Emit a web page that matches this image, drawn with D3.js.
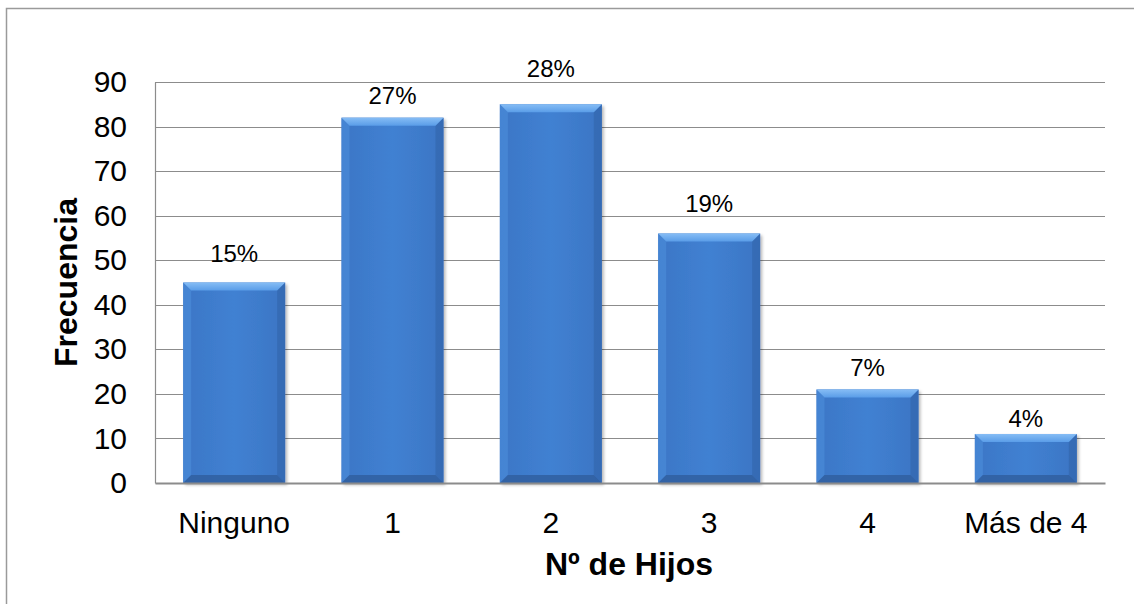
<!DOCTYPE html>
<html>
<head>
<meta charset="utf-8">
<script src="https://cdn.jsdelivr.net/npm/d3@7"></script>
<style>
  html, body { margin: 0; padding: 0; background: #fff; }
  svg { display: block; font-family: "Liberation Sans", Arial, sans-serif; }
</style>
</head>
<body>
<svg id="chart" width="1134" height="604"></svg>
<script>
// Number of children per respondent: frequency and share of total
const categories = ["Ninguno", "1", "2", "3", "4", "Más de 4"];
const frequencies = [45, 82, 85, 56, 21, 11];
const percentLabels = ["15%", "27%", "28%", "19%", "7%", "4%"];
const yTicks = [0, 10, 20, 30, 40, 50, 60, 70, 80, 90];

// Hand-placed gap (px) between each bar top and its label baseline
const labelLift = [21, 14, 27, 21, 13, 7];

const svg = d3.select("#chart");
const W = 1134, H = 604;
const plot = { left: 155, right: 1105, top: 82, bottom: 483 };

// Outer chart frame (runs off the right and bottom edges)
svg.append("rect")
  .attr("x", 6.5).attr("y", 8.5)
  .attr("width", W + 20).attr("height", H + 20)
  .attr("fill", "#fff").attr("stroke", "#9a9a9a").attr("stroke-width", 1.5);

const x = d3.scaleBand()
  .domain(categories)
  .range([plot.left, plot.right])
  .paddingInner(0.356)
  .paddingOuter(0.178);

const y = d3.scaleLinear()
  .domain([0, 90])
  .range([plot.bottom, plot.top]);

const defs = svg.append("defs");

// Body shading across the bar width
const body = defs.append("linearGradient").attr("id", "barBody")
  .attr("x1", "0").attr("x2", "1").attr("y1", "0").attr("y2", "0");
body.append("stop").attr("offset", "0").attr("stop-color", "#3b76c6");
body.append("stop").attr("offset", "0.5").attr("stop-color", "#4181d2");
body.append("stop").attr("offset", "1").attr("stop-color", "#3b75c4");

const topBevel = defs.append("linearGradient").attr("id", "barTop")
  .attr("x1", "0").attr("x2", "0").attr("y1", "0").attr("y2", "1");
topBevel.append("stop").attr("offset", "0").attr("stop-color", "#86bdf5");
topBevel.append("stop").attr("offset", "1").attr("stop-color", "#5a9de8");

const shadow = defs.append("filter").attr("id", "barShadow")
  .attr("x", "-10%").attr("y", "-10%").attr("width", "125%").attr("height", "125%");
shadow.append("feDropShadow")
  .attr("dx", 2).attr("dy", 2).attr("stdDeviation", 1.5)
  .attr("flood-color", "#000").attr("flood-opacity", 0.28);

// Horizontal gridlines
svg.append("g")
  .selectAll("line")
  .data(yTicks.filter(d => d > 0))
  .join("line")
  .attr("x1", plot.left).attr("x2", plot.right)
  .attr("y1", d => Math.round(y(d)) + 0.5).attr("y2", d => Math.round(y(d)) + 0.5)
  .attr("stroke", "#8c8c8c").attr("stroke-width", 1);

// Y axis
const yAxis = svg.append("g")
  .attr("transform", `translate(${plot.left},0)`)
  .call(d3.axisLeft(y).tickValues(yTicks).tickSize(0).tickPadding(28));
yAxis.select(".domain").attr("stroke", "#8c8c8c").attr("stroke-width", 1.2);
yAxis.selectAll("text")
  .attr("font-size", 30).attr("fill", "#000")
  .attr("font-family", "Liberation Sans, Arial, sans-serif");

// Bars with bevelled edges
const bev = 8;
const bars = svg.append("g").selectAll("g")
  .data(categories.map((c, i) => ({ c, v: frequencies[i], p: percentLabels[i], lift: labelLift[i] })))
  .join("g");

bars.append("rect")
  .attr("x", d => x(d.c)).attr("y", d => y(d.v))
  .attr("width", x.bandwidth()).attr("height", d => y(0) - y(d.v))
  .attr("fill", "url(#barBody)")
  .attr("filter", "url(#barShadow)");

// left edge
bars.append("path")
  .attr("d", d => {
    const x0 = x(d.c), y0 = y(d.v), y1 = y(0);
    return `M${x0},${y0}L${x0 + bev},${y0 + bev}L${x0 + bev},${y1 - bev}L${x0},${y1}Z`;
  })
  .attr("fill", "#4888d6").attr("opacity", 0.8);
// right edge
bars.append("path")
  .attr("d", d => {
    const x1 = x(d.c) + x.bandwidth(), y0 = y(d.v), y1 = y(0);
    return `M${x1},${y0}L${x1 - bev},${y0 + bev}L${x1 - bev},${y1 - bev}L${x1},${y1}Z`;
  })
  .attr("fill", "#3469b0").attr("opacity", 0.8);
// bottom edge
bars.append("path")
  .attr("d", d => {
    const x0 = x(d.c), x1 = x0 + x.bandwidth(), y1 = y(0);
    return `M${x0},${y1}L${x0 + bev},${y1 - bev}L${x1 - bev},${y1 - bev}L${x1},${y1}Z`;
  })
  .attr("fill", "#305fa0").attr("opacity", 0.85);
// top edge
bars.append("path")
  .attr("d", d => {
    const x0 = x(d.c), x1 = x0 + x.bandwidth(), y0 = y(d.v);
    return `M${x0},${y0}L${x1},${y0}L${x1 - bev},${y0 + bev}L${x0 + bev},${y0 + bev}Z`;
  })
  .attr("fill", "url(#barTop)");

// Percentage labels above each bar
bars.append("text")
  .attr("x", d => x(d.c) + x.bandwidth() / 2)
  .attr("y", d => y(d.v) - d.lift)
  .attr("text-anchor", "middle")
  .attr("font-size", 24).attr("fill", "#000")
  .text(d => d.p);

// Baseline / X axis
const xAxis = svg.append("g")
  .attr("transform", `translate(0,${plot.bottom})`)
  .call(d3.axisBottom(x).tickSize(0).tickPadding(29));
xAxis.select(".domain").attr("stroke", "#8c8c8c").attr("stroke-width", 2);
xAxis.selectAll("text")
  .attr("font-size", 30).attr("fill", "#000")
  .attr("font-family", "Liberation Sans, Arial, sans-serif");

// Axis titles
svg.append("text")
  .attr("x", (plot.left + plot.right) / 2 - 1)
  .attr("y", 575)
  .attr("text-anchor", "middle")
  .attr("font-size", 32).attr("font-weight", "bold")
  .text("Nº de Hijos");

svg.append("text")
  .attr("transform", `translate(77,${(plot.top + plot.bottom) / 2}) rotate(-90)`)
  .attr("text-anchor", "middle")
  .attr("font-size", 32).attr("font-weight", "bold")
  .text("Frecuencia");
</script>
</body>
</html>
